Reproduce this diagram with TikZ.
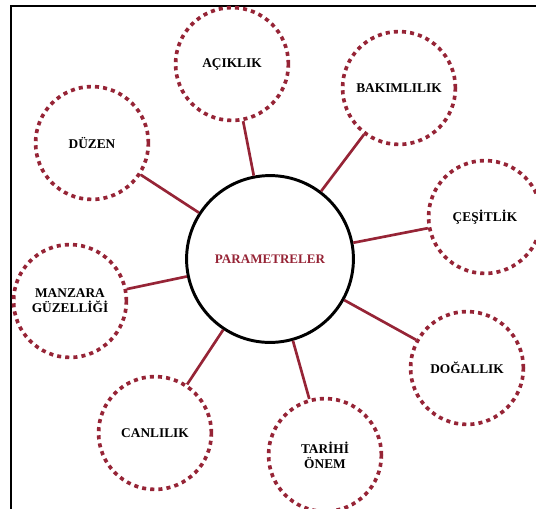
\documentclass[tikz,border=0pt]{standalone}
\usepackage{fontspec}
\setmainfont{Liberation Serif}
\usepackage{tikz}
\usetikzlibrary{positioning}
\definecolor{dunkelrot}{RGB}{150,36,54}

\begin{document}
\begin{tikzpicture}[x=0.025cm,y=-0.025cm,
  mitte/.style={circle,draw=black,line width=2.1pt,minimum size=4.17cm,inner sep=0pt,
    font=\bfseries\fontsize{9.3}{11}\selectfont,text=dunkelrot},
  param/.style={circle,draw=dunkelrot,line width=2.6pt,dash pattern=on 2.9pt off 2.9pt,
    minimum size=2.82cm,inner sep=0pt,align=center,font=\bfseries\fontsize{9.5}{10.8}\selectfont},
  verbindung/.style={dunkelrot,line width=1.9pt}]
\useasboundingbox (0,0) rectangle (536,508);
\clip (0,0) rectangle (536,508);
%Rahmen, rechts und unten abgeschnitten
\draw[line width=1.4pt] (11,600) |- (600,6);
%Mitte
\node[mitte] (mitte) at (270,259) {PARAMETRELER};
%Parameter im Kreis herum
\node[param] (aciklik) at (232,64) {AÇIKLIK};
\node[param] (bakim) at (399,88) {BAKIMLILIK};
\node[param] (cesit) at (485,217) {ÇEŞİTLİK};
\node[param] (dogal) at (467,368) {DOĞALLIK};
\node[param] (tarih) at (325,455) {TARİHİ\\ÖNEM};
\node[param] (canli) at (155,433) {CANLILIK};
\node[param] (manzara) at (70,301) {MANZARA\\GÜZELLİĞİ};
\node[param] (duzen) at (92,143) {DÜZEN};
\foreach \ziel in {aciklik,bakim,cesit,dogal,tarih,canli,manzara,duzen}{
\draw[verbindung] (mitte) -- (\ziel);
}
\end{tikzpicture}
\end{document}
